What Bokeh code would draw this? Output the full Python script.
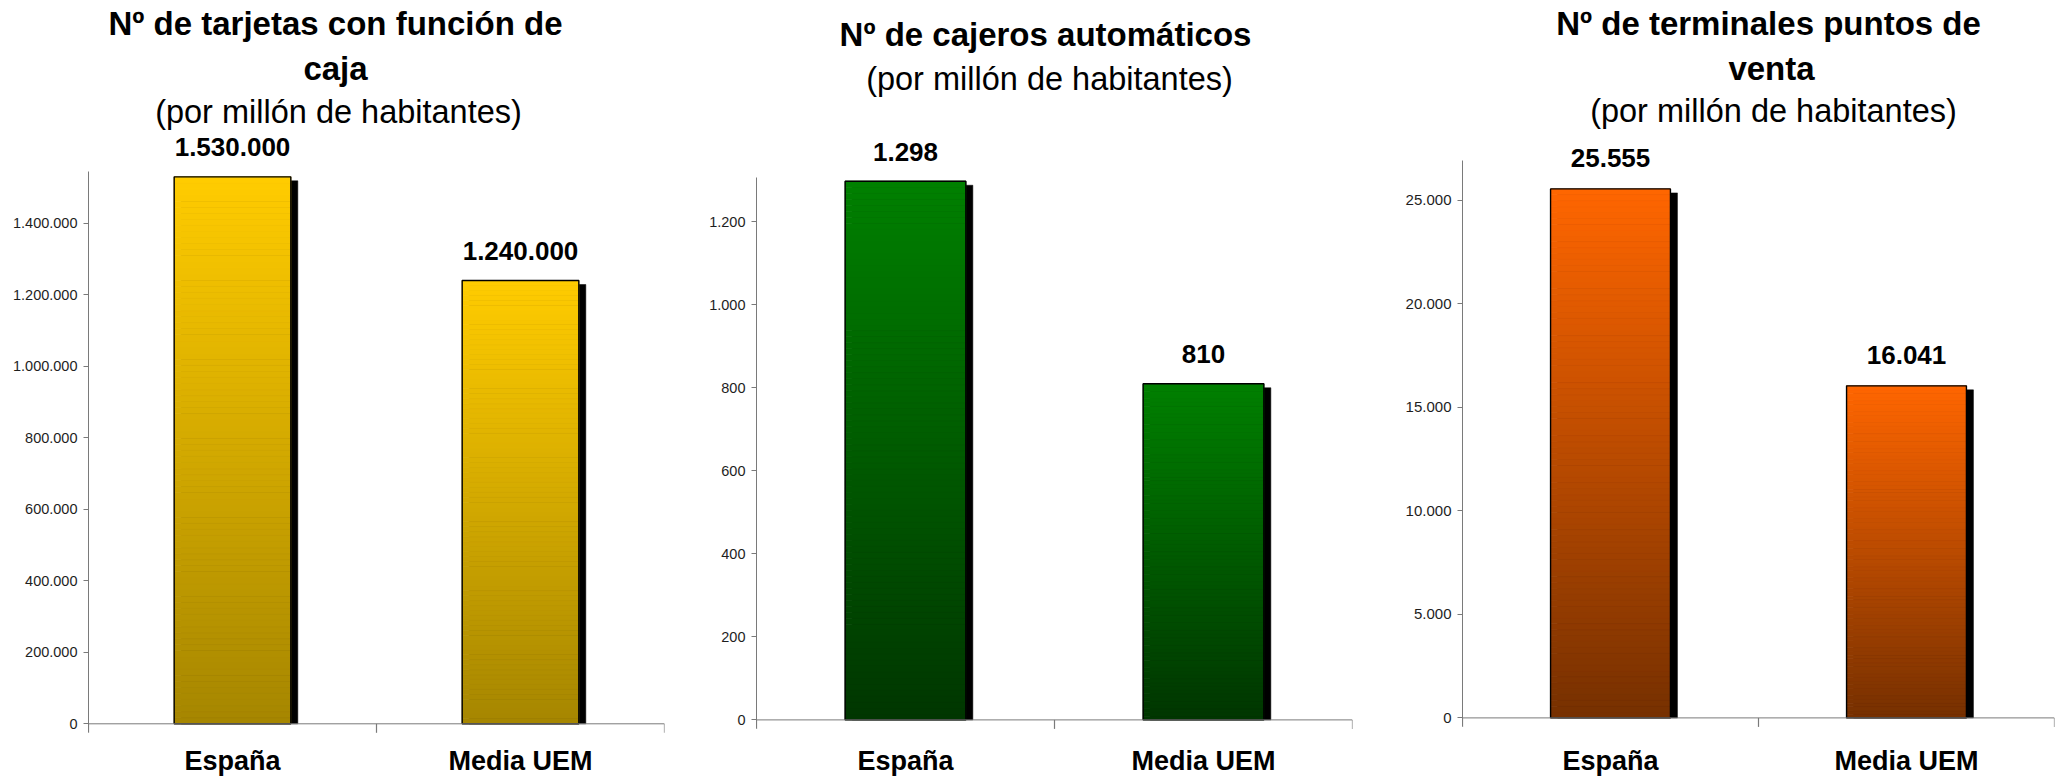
from bokeh.plotting import figure
from bokeh.layouts import row
from bokeh.models import FactorRange, Range1d, FixedTicker, Span, ColumnDataSource
from bokeh.transform import dodge
from bokeh.core.properties import value
from bokeh.embed import file_html
from bokeh.resources import INLINE

# ---------------- data ----------------
categorias = ["España", "Media UEM"]

tarjetas = [1530000, 1240000]
cajeros = [1298, 810]
terminales = [25555, 16041]

ticks_tarjetas = [0, 200000, 400000, 600000, 800000, 1000000, 1200000, 1400000]
labels_tarjetas = ["0", "200.000", "400.000", "600.000", "800.000", "1.000.000", "1.200.000", "1.400.000"]
ticks_cajeros = [0, 200, 400, 600, 800, 1000, 1200]
labels_cajeros = ["0", "200", "400", "600", "800", "1.000", "1.200"]
ticks_terminales = [0, 5000, 10000, 15000, 20000, 25000]
labels_terminales = ["0", "5.000", "10.000", "15.000", "20.000", "25.000"]

titulo_tarjetas = ["Nº de tarjetas con función de", "caja"]
titulo_cajeros = ["Nº de cajeros automáticos"]
titulo_terminales = ["Nº de terminales puntos de", "venta"]
subtitulo = "(por millón de habitantes)"

FONT = value("Liberation Sans")
FIG_H = 776
PAGE_TOP = 0
BASE_SHIFT = 0.37  # em: correction between requested and drawn baseline


def hex2rgb(h):
    h = h.lstrip("#")
    return tuple(int(h[i:i + 2], 16) for i in (0, 2, 4))


def mix(c0, c1, t):
    a, b = hex2rgb(c0), hex2rgb(c1)
    return "#%02x%02x%02x" % tuple(int(round(a[i] + (b[i] - a[i]) * t)) for i in range(3))


def fmt(v):
    return f"{v:,}".replace(",", ".")


def chart(vals, ticks, tick_labels, top_col, bot_col, title_lines, fig_left, fig_right,
          frame_left, frame_right, zero_px, ppu, axis_top, tick_font="14.5px", label_gap=20):
    width = fig_right - fig_left
    y_end = (zero_px - PAGE_TOP) / ppu
    y_start = -(PAGE_TOP + FIG_H - zero_px) / ppu
    cat_w = (frame_right - frame_left) / 2.0

    def sx(px):
        return (px - frame_left) / cat_w

    def sy(py, size):
        return (zero_px - (py - BASE_SHIFT * size)) / ppu

    p = figure(width=width, height=FIG_H, x_range=FactorRange(*categorias),
               y_range=Range1d(y_start, y_end), toolbar_location=None,
               output_backend="svg", title=None, x_axis_location=None,
               min_border_left=frame_left - fig_left, min_border_right=fig_right - frame_right,
               min_border_top=0, min_border_bottom=0)
    p.grid.visible = False
    p.outline_line_color = None
    p.background_fill_color = "white"
    p.border_fill_color = "white"

    tick_len = 9 / ppu
    ax = p.yaxis[0]
    ax.ticker = FixedTicker(ticks=ticks)
    ax.major_label_overrides = {t: l for t, l in zip(ticks, tick_labels)}
    ax.bounds = (-tick_len, axis_top)
    ax.axis_line_color = "#7a7a7a"
    ax.axis_line_width = 1
    ax.major_tick_line_color = "#7a7a7a"
    ax.major_tick_out = 5
    ax.major_tick_in = 0
    ax.minor_tick_line_color = None
    ax.major_label_standoff = 6
    ax.major_label_text_font = "Liberation Sans"
    ax.major_label_text_font_size = tick_font
    ax.major_label_text_color = "#1e1e1e"

    bw = 0.405
    # shadow
    sh = ColumnDataSource(dict(cat=categorias, top=[v - 4 / ppu for v in vals]))
    p.vbar(x=dodge("cat", 7 / cat_w, range=p.x_range), top="top", bottom=0, width=bw,
           source=sh, fill_color="black", line_color="black", line_width=0.5)

    # gradient bars
    n = 90
    gx, gb, gt, gc = [], [], [], []
    for c, v in zip(categorias, vals):
        for k in range(n):
            gx.append(c)
            gb.append(v * k / n)
            gt.append(v * (k + 1) / n)
            gc.append(mix(bot_col, top_col, (k + 0.5) / n))
    gsrc = ColumnDataSource(dict(x=gx, b=gb, t=gt, c=gc))
    p.vbar(x="x", bottom="b", top="t", width=bw, source=gsrc, fill_color="c",
           line_color="c", line_width=0.8)

    # outline
    p.vbar(x=categorias, top=vals, bottom=0, width=bw, fill_alpha=0,
           line_color="black", line_width=1.4)

    # x axis line and boundary ticks
    p.add_layout(Span(location=0, dimension="width", line_color="#7a7a7a", line_width=1))
    p.segment(x0=[0, 1, 2], y0=[0, 0, 0], x1=[0, 1, 2], y1=[-tick_len] * 3,
              line_color="#7a7a7a", line_width=1.2)

    # value labels
    p.text(x=categorias, y=vals, text=[fmt(v) for v in vals],
           y_offset=-(label_gap + BASE_SHIFT * 26),
           text_align="center", text_baseline="alphabetic", text_font=FONT,
           text_font_style="bold", text_font_size="26px", text_color="black")

    # category labels
    p.text(x=categorias, y=[sy(770, 27)] * 2, text=categorias, text_align="center",
           text_baseline="alphabetic", text_font=FONT, text_font_style="bold",
           text_font_size="27px", text_color="black")

    # titles
    for txt, px, py, size, style in title_lines:
        p.text(x=[sx(px)], y=[sy(py, size)], text=[txt], text_align="center",
               text_baseline="alphabetic", text_font=FONT, text_font_style=style,
               text_font_size=f"{size}px", text_color="black")
    return p


p1 = chart(tarjetas, ticks_tarjetas, labels_tarjetas, "#FFCC00", "#A68600",
           [(titulo_tarjetas[0], 335, 35, 33, "bold"),
            (titulo_tarjetas[1], 335, 80, 33, "bold"),
            (subtitulo, 338, 124, 32.5, "normal")],
           0, 700, 88, 664, 723.3, 357.5e-6, 1546000, tick_font="14.5px")

p2 = chart(cajeros, ticks_cajeros, labels_cajeros, "#008000", "#003600",
           [(titulo_cajeros[0], 1045, 46.5, 33, "bold"),
            (subtitulo, 1049, 90.5, 32.5, "normal")],
           700, 1390, 756, 1352, 719.4, 0.415, 1307, tick_font="14.5px")

p3 = chart(terminales, ticks_terminales, labels_terminales, "#FF6600", "#763000",
           [(titulo_terminales[0], 1768, 35, 33, "bold"),
            (titulo_terminales[1], 1771, 80, 33, "bold"),
            (subtitulo, 1773, 123, 32.5, "normal")],
           1390, 2063, 1462, 2054, 717.4, 0.0207, 26930, tick_font="15px", label_gap=21)

layout = row(p1, p2, p3, spacing=0)
open("out.html", "w").write(file_html(layout, INLINE))
